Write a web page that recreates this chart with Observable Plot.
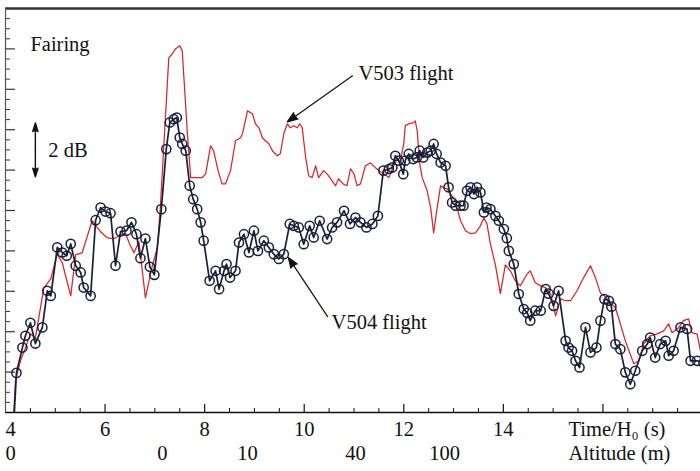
<!DOCTYPE html>
<html>
<head>
<meta charset="utf-8">
<script src="https://cdn.jsdelivr.net/npm/d3@7"></script>
<script src="https://cdn.jsdelivr.net/npm/@observablehq/plot@0.6"></script>
<style>
  html, body { margin: 0; padding: 0; background: #fff; overflow: hidden; }
  #chart svg { display: block; }
</style>
</head>
<body>
<div id="chart"></div>
<script>
// V504 flight: acoustic level under the fairing (relative dB) vs time / H0
const v504Time = [4.16,4.22,4.34,4.40,4.50,4.60,4.74,4.84,4.91,5.04,
  5.14,5.23,5.31,5.41,5.51,5.57,5.71,5.81,5.91,6.01,
  6.11,6.21,6.31,6.43,6.53,6.63,6.71,6.81,6.90,6.99,
  7.13,7.23,7.30,7.38,7.44,7.50,7.55,7.62,7.70,7.77,
  7.85,7.92,7.98,8.10,8.22,8.29,8.39,8.44,8.51,8.62,
  8.69,8.79,8.89,8.99,9.07,9.19,9.29,9.39,9.49,9.59,
  9.71,9.79,9.89,9.99,10.11,10.19,10.31,10.46,10.56,10.66,
  10.80,10.92,11.03,11.13,11.25,11.37,11.48,11.59,11.70,11.77,
  11.83,11.90,11.99,12.03,12.10,12.19,12.26,12.32,12.39,12.47,
  12.54,12.60,12.66,12.74,12.84,12.90,12.97,13.04,13.14,13.20,
  13.27,13.34,13.41,13.47,13.54,13.61,13.66,13.74,13.84,13.91,
  14.01,14.07,14.11,14.21,14.31,14.41,14.48,14.54,14.64,14.75,
  14.85,14.91,15.01,15.11,15.25,15.31,15.38,15.45,15.53,15.65,
  15.75,15.87,15.95,16.03,16.12,16.17,16.25,16.35,16.45,16.55,
  16.65,16.79,16.89,16.95,17.05,17.15,17.26,17.32,17.42,17.56,
  17.69,17.76,17.89,18.02];
const v504Level = [-0.6,1.47,2.41,2.85,3.33,2.56,3.16,4.52,4.33,6.13,
  5.94,5.82,6.26,5.45,5.20,4.64,4.33,7.14,7.61,7.46,
  7.40,5.45,6.72,6.75,7.06,6.62,5.73,6.46,5.41,5.11,
  7.55,9.78,10.77,10.89,10.95,10.21,9.97,9.72,8.42,7.92,
  7.55,7.06,6.38,4.89,5.26,4.58,5.26,5.51,5.01,5.26,
  6.31,6.62,5.94,6.75,6.00,6.38,6.13,5.88,5.70,5.88,
  7.00,6.93,6.87,6.25,6.93,6.50,7.12,6.44,6.87,7.06,
  7.49,7.00,7.24,7.06,6.87,7.00,7.30,8.98,9.04,9.10,
  9.53,9.35,8.85,9.35,9.60,9.41,9.47,9.72,9.47,9.65,
  9.72,9.97,9.60,9.28,9.16,8.36,7.80,7.68,7.68,7.68,
  8.23,8.36,8.11,8.36,8.17,7.43,7.61,7.55,7.30,7.12,
  6.81,6.47,6.00,5.51,4.40,3.84,3.70,3.41,3.78,3.78,
  4.58,4.41,3.96,4.52,2.66,2.41,2.29,1.92,1.67,3.16,
  2.23,2.41,3.41,4.21,4.15,3.93,2.54,2.35,1.49,1.05,
  1.55,2.29,2.54,2.78,2.04,2.54,2.66,2.11,2.29,3.16,
  3.10,1.92,1.92,1.85];

// V503 flight
const v503Time = [4.16,4.20,4.30,4.40,4.50,4.60,4.77,4.91,5.04,5.14,
  5.31,5.41,5.54,5.74,5.91,6.04,6.18,6.31,6.41,6.51,
  6.58,6.68,6.81,6.95,7.05,7.11,7.28,7.35,7.42,7.50,
  7.55,7.65,7.72,7.82,7.95,8.02,8.12,8.18,8.27,8.35,
  8.42,8.52,8.62,8.72,8.76,8.86,8.96,9.02,9.09,9.16,
  9.22,9.29,9.36,9.46,9.52,9.59,9.66,9.72,9.79,9.86,
  9.91,9.96,10.03,10.09,10.16,10.23,10.29,10.39,10.46,10.56,
  10.63,10.69,10.78,10.86,10.93,11.00,11.06,11.13,11.23,11.33,
  11.43,11.53,11.63,11.70,11.77,11.87,11.92,12.00,12.03,12.10,
  12.20,12.23,12.27,12.32,12.37,12.47,12.54,12.60,12.67,12.74,
  12.80,12.87,12.94,13.00,13.07,13.14,13.24,13.34,13.44,13.54,
  13.61,13.67,13.74,13.84,13.94,14.04,14.14,14.24,14.34,14.48,
  14.54,14.64,14.75,14.85,14.95,15.05,15.15,15.25,15.35,15.48,
  15.61,15.75,15.85,15.95,16.05,16.15,16.25,16.32,16.45,16.62,
  16.72,16.82,16.95,17.09,17.22,17.32,17.39,17.52,17.62,17.72,
  17.79,17.89,17.96,18.04];
const v503Level = [-0.2,1.18,1.92,2.40,2.92,2.77,4.63,4.96,5.89,5.56,
  4.33,5.86,5.93,7.12,6.71,6.49,6.45,6.60,6.64,6.19,
  5.93,6.34,4.26,5.45,6.12,7.60,13.17,13.32,13.51,13.62,
  13.43,10.46,8.72,8.72,8.72,8.86,9.90,9.72,8.98,8.49,
  8.49,8.98,10.09,10.20,10.35,11.20,11.09,10.72,10.57,10.20,
  10.09,9.98,9.72,9.53,9.61,10.35,10.72,10.57,10.65,10.57,
  10.72,10.57,9.46,8.79,8.72,9.16,8.72,8.98,8.86,8.60,
  8.42,8.68,8.49,8.42,9.05,8.86,8.42,8.49,9.16,9.27,
  9.09,8.94,8.83,8.72,9.05,9.42,9.27,9.98,10.65,10.72,
  10.76,10.83,10.46,9.24,8.72,8.23,7.60,6.67,7.60,8.42,
  8.34,8.31,8.12,7.97,7.60,7.12,6.75,6.64,6.67,6.93,
  7.23,7.01,6.26,5.48,4.41,5.48,5.26,4.89,4.70,5.15,
  5.26,4.82,4.70,4.63,4.41,3.59,4.22,4.15,4.15,4.52,
  5.00,5.45,5.00,4.44,4.30,4.07,3.89,3.48,2.66,1.81,
  1.92,2.55,2.85,2.92,3.03,3.29,2.96,3.15,3.41,3.48,
  2.96,2.92,2.29,1.92];

// Axis labelling
const timeTicks = [4, 6, 8, 10, 12, 14];
const altitudeTimes = [4, 7.15, 8.86, 11.03, 12.82];
const altitudeLabels = ["0", "0", "10", "40", "100"];
const timeTitle = "Time/H\u2080 (s)";
const altitudeTitle = "Altitude (m)";

// Text annotations and pointers (time, dB)
const noteText = ["Fairing", "2 dB", "V503 flight", "V504 flight"];
const noteTime = [4.5, 4.86, 11.09, 10.55];
const noteLevel = [13.65, 9.72, 12.58, 3.33];
const pointerFrom = [[10.97, 12.50], [10.47, 3.56]];
const pointerTo = [[9.66, 10.79], [9.68, 5.76]];
// 2 dB scale bar
const barTime = 4.6, barMid = 9.75, barHalf = 1;

// Layout and style
const W = 700, H = 471, mTop = 8, mBottom = 59, mLeft = 5, mRight = 0;
const innerW = W - mLeft - mRight, innerH = H - mTop - mBottom;
const ink = "#111", navy = "#1a1f38", red = "#d8262b";
const serif = "'Liberation Serif', 'Times New Roman', Times, serif";
const fs = 20.5;

const v504 = v504Time.map((t, i) => ({t, db: v504Level[i]}));
const v503 = v503Time.map((t, i) => ({t, db: v503Level[i]}));
const notes = noteText.map((text, i) => ({text, t: noteTime[i], db: noteLevel[i]}));
const pointers = pointerFrom.map((f, i) => ({t1: f[0], db1: f[1], t2: pointerTo[i][0], db2: pointerTo[i][1]}));
const bar = [
  {t1: barTime, db1: barMid, t2: barTime, db2: barMid + barHalf},
  {t1: barTime, db1: barMid, t2: barTime, db2: barMid - barHalf}
];
const altitude = altitudeTimes.map((t, i) => ({t, label: altitudeLabels[i]}));

// Tick positions: every 0.5 s on time (long at even seconds), every 0.375 dB on level (long every 1.5 dB)
const majorX = d3.range(6, 18, 2);
const minorX = d3.range(9, 36).map(i => i * 0.5).filter(t => t % 2 !== 0);
const majorY = d3.range(1, 10).map(i => i * 1.5);
const minorY = d3.range(1, 40).filter(i => i % 4 !== 0).map(i => i * 0.375);

const txt = {fontFamily: serif, fontSize: fs, fill: ink};

const chart = Plot.plot({
  width: W, height: H,
  marginTop: mTop, marginBottom: mBottom, marginLeft: mLeft, marginRight: mRight,
  x: {domain: [4, 17.96], axis: null},
  y: {domain: [0, 15], axis: null},
  style: {fontFamily: serif, background: "#fff"},
  marks: [
    // ticks
    Plot.tickX(minorX, {x: d => d, insetTop: innerH - 4, stroke: ink, strokeWidth: 1}),
    Plot.tickX(majorX, {x: d => d, insetTop: innerH - 8, stroke: ink, strokeWidth: 1.2}),
    Plot.tickY(minorY, {y: d => d, insetRight: innerW - 5, stroke: "#333", strokeWidth: 1}),
    Plot.tickY(majorY, {y: d => d, insetRight: innerW - 10, stroke: "#333", strokeWidth: 1.2}),
    // frame lines
    Plot.ruleY([0], {stroke: ink, strokeWidth: 1.6}),
    Plot.ruleY([15], {stroke: "#333", strokeWidth: 2.6}),
    Plot.ruleX([4], {stroke: "#555", strokeWidth: 1.2}),
    // series
    Plot.line(v503, {x: "t", y: "db", stroke: red, strokeWidth: 1.25, clip: true}),
    Plot.line(v504, {x: "t", y: "db", stroke: navy, strokeWidth: 1.7, clip: true}),
    Plot.dot(v504, {x: "t", y: "db", r: 4.6, stroke: navy, strokeWidth: 1.5, fill: "none", clip: true}),
    // annotations
    Plot.arrow(pointers, {x1: "t1", y1: "db1", x2: "t2", y2: "db2", bend: 0,
      headLength: 14, headAngle: 40, stroke: ink, fill: ink, strokeWidth: 1.2}),
    Plot.arrow(bar, {x1: "t1", y1: "db1", x2: "t2", y2: "db2", bend: 0,
      headLength: 14, headAngle: 34, stroke: ink, fill: ink, strokeWidth: 1.4}),
    Plot.text(notes, {x: "t", y: "db", text: "text", textAnchor: "start", ...txt}),
    // time tick labels
    Plot.text(timeTicks.slice(0, 1), {x: d => d, text: d => String(d), frameAnchor: "bottom", dy: 23, textAnchor: "start", ...txt}),
    Plot.text(timeTicks.slice(1), {x: d => d, text: d => String(d), frameAnchor: "bottom", dy: 23, ...txt}),
    // altitude labels
    Plot.text(altitude.slice(0, 1), {x: "t", text: "label", frameAnchor: "bottom", dy: 47, textAnchor: "start", ...txt}),
    Plot.text(altitude.slice(1), {x: "t", text: "label", frameAnchor: "bottom", dy: 47, ...txt}),
    // axis titles
    Plot.text([timeTitle], {text: d => d, frameAnchor: "bottom-right", textAnchor: "start", dx: -132, dy: 23, ...txt}),
    Plot.text([altitudeTitle], {text: d => d, frameAnchor: "bottom-right", textAnchor: "start", dx: -132, dy: 47, ...txt})
  ]
});

document.getElementById("chart").appendChild(chart);
</script>
</body>
</html>
